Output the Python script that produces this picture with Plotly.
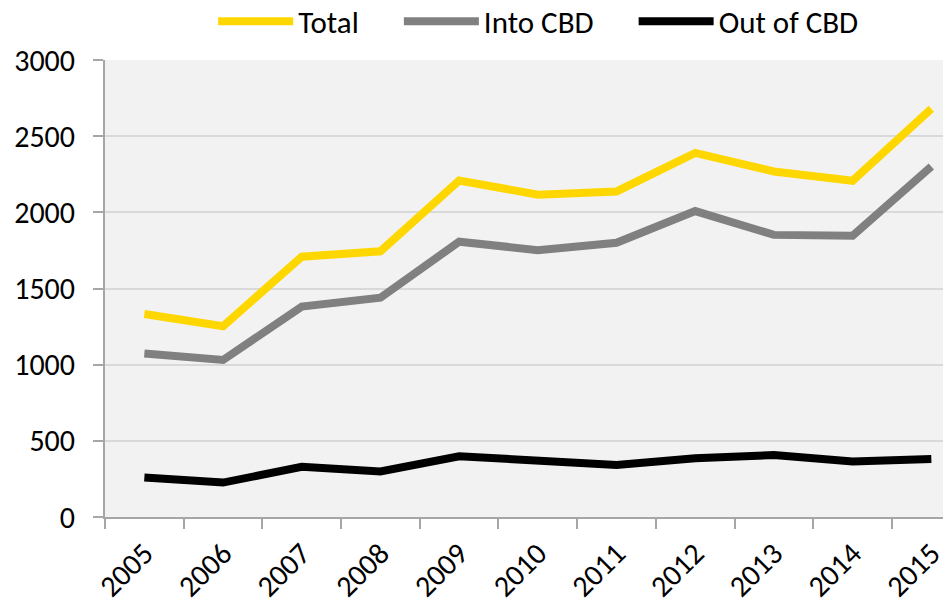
import plotly.graph_objects as go

years = ["2005", "2006", "2007", "2008", "2009", "2010", "2011", "2012", "2013", "2014", "2015"]
total = [1333, 1252, 1709, 1744, 2209, 2116, 2137, 2390, 2268, 2207, 2680]
into_cbd = [1074, 1031, 1381, 1440, 1807, 1752, 1800, 2008, 1852, 1846, 2301]
out_of_cbd = [260, 226, 329, 299, 399, 369, 341, 385, 407, 364, 381]

font = dict(family="Carlito, Calibri, Lato, sans-serif", size=30, color="black")
legend_font = dict(family="Carlito, Calibri, Lato, sans-serif", size=31, color="black")
pad = "\u00a0" * 5

fig = go.Figure()
fig.add_trace(go.Scatter(x=years, y=total, name="Total" + pad, mode="lines",
                         line=dict(color="#FFD700", width=8)))
fig.add_trace(go.Scatter(x=years, y=into_cbd, name="Into CBD" + pad, mode="lines",
                         line=dict(color="#808080", width=8)))
fig.add_trace(go.Scatter(x=years, y=out_of_cbd, name="Out of CBD", mode="lines",
                         line=dict(color="#000000", width=8)))

# page body has an 8px margin, so the figure is 8px smaller on each side
fig.update_layout(
    width=943, height=598,
    margin=dict(l=97, r=0, t=52, b=89, autoexpand=False),
    paper_bgcolor="white", plot_bgcolor="#F2F2F2",
    font=font,
    legend=dict(orientation="h", x=0.512, xanchor="center", y=1.084, yanchor="middle",
                font=legend_font, itemwidth=75, tracegroupgap=0, bgcolor="rgba(0,0,0,0)"),
)
fig.update_xaxes(type="category", range=[-0.5, 10.25], tickson="boundaries",
                 ticks="outside", ticklen=10, tickcolor="#A6A6A6", tickwidth=1.5,
                 showline=True, linecolor="#A6A6A6", linewidth=2, automargin=False,
                 showgrid=False, tickangle=-45, tickfont=font, ticklabelstandoff=5)
fig.update_yaxes(range=[0, 3000], dtick=500, ticks="outside", ticklen=10,
                 tickcolor="#A6A6A6", tickwidth=1.5, automargin=False,
                 showline=True, linecolor="#A6A6A6", linewidth=2,
                 gridcolor="#D9D9D9", gridwidth=1.5, zeroline=False,
                 ticklabelstandoff=12, tickfont=font)

fig.write_html("out.html")
